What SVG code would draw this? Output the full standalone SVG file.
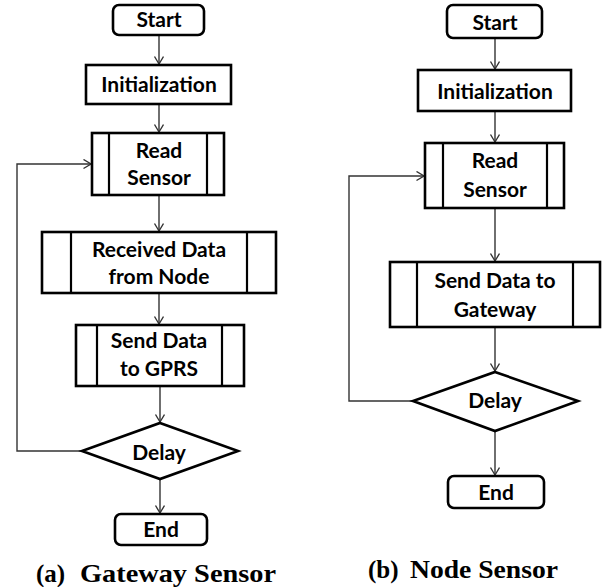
<svg xmlns="http://www.w3.org/2000/svg" width="602" height="587" viewBox="0 0 602 587">
<style>
.box{fill:#fff;stroke:#000;stroke-width:2.6}
.in{stroke:#000;stroke-width:2.2;fill:none}
.t{font-family:Lato,"Liberation Sans",sans-serif;font-weight:bold;font-size:21px;fill:#000;text-anchor:middle}
.c{stroke:#333;stroke-width:1.4;fill:none}
.cap{font-family:"Liberation Serif","Times New Roman",serif;font-weight:bold;font-size:25px;fill:#000}
</style>
<defs>
<marker id="ah" markerUnits="userSpaceOnUse" markerWidth="12" markerHeight="12" refX="8" refY="5" orient="auto">
<path d="M0.5,0.5 L8,5 L0.5,9.5" fill="none" stroke="#333" stroke-width="1.4"/>
</marker>
</defs>
<g id="connectors">
<line class="c" x1="159" y1="35" x2="159" y2="64" marker-end="url(#ah)"/>
<line class="c" x1="159" y1="104" x2="159" y2="132" marker-end="url(#ah)"/>
<line class="c" x1="159" y1="195" x2="159" y2="231" marker-end="url(#ah)"/>
<line class="c" x1="159" y1="293" x2="159" y2="324" marker-end="url(#ah)"/>
<line class="c" x1="160" y1="386" x2="160" y2="422" marker-end="url(#ah)"/>
<line class="c" x1="160" y1="479" x2="160" y2="513" marker-end="url(#ah)"/>
<polyline class="c" points="82,451 17,451 17,164 91,164" marker-end="url(#ah)"/>
<line class="c" x1="495" y1="38" x2="495" y2="69" marker-end="url(#ah)"/>
<line class="c" x1="495" y1="111" x2="495" y2="142" marker-end="url(#ah)"/>
<line class="c" x1="495" y1="208" x2="495" y2="261" marker-end="url(#ah)"/>
<line class="c" x1="495" y1="327" x2="495" y2="371" marker-end="url(#ah)"/>
<line class="c" x1="495" y1="431" x2="495" y2="475" marker-end="url(#ah)"/>
<polyline class="c" points="413,401 349,401 349,176 424,176" marker-end="url(#ah)"/>
</g>
<g id="a-start"><rect class="box" x="113" y="5" width="91" height="30" rx="6"/><text class="t" x="159" y="27">Start</text></g>
<g id="a-init"><rect class="box" x="86" y="65" width="145" height="39"/><text class="t" x="159" y="92">Initialization</text></g>
<g id="a-read"><rect class="box" x="92" y="133" width="132" height="62"/><line class="in" x1="109" y1="133" x2="109" y2="195"/><line class="in" x1="207" y1="133" x2="207" y2="195"/><text class="t" x="159" y="158">Read</text><text class="t" x="159" y="185">Sensor</text></g>
<g id="a-recv"><rect class="box" x="42" y="232" width="234" height="61"/><line class="in" x1="71" y1="232" x2="71" y2="293"/><line class="in" x1="247" y1="232" x2="247" y2="293"/><text class="t" x="159" y="257">Received Data</text><text class="t" x="159" y="284">from Node</text></g>
<g id="a-send"><rect class="box" x="76" y="325" width="168" height="61"/><line class="in" x1="97" y1="325" x2="97" y2="386"/><line class="in" x1="222" y1="325" x2="222" y2="386"/><text class="t" x="159" y="348">Send Data</text><text class="t" x="159" y="376">to GPRS</text></g>
<g id="a-delay"><polygon class="box" points="160,423 238,451 160,479 82,451"/><text class="t" x="159" y="460">Delay</text></g>
<g id="a-end"><rect class="box" x="115" y="514" width="92" height="31" rx="6"/><text class="t" x="161" y="537">End</text></g>
<g id="b-start"><rect class="box" x="447" y="5" width="95" height="33" rx="6"/><text class="t" x="495" y="30">Start</text></g>
<g id="b-init"><rect class="box" x="418" y="70" width="153" height="41"/><text class="t" x="495" y="99">Initialization</text></g>
<g id="b-read"><rect class="box" x="425" y="143" width="139" height="65"/><line class="in" x1="443" y1="143" x2="443" y2="208"/><line class="in" x1="547" y1="143" x2="547" y2="208"/><text class="t" x="495" y="168">Read</text><text class="t" x="495" y="197">Sensor</text></g>
<g id="b-send"><rect class="box" x="390" y="262" width="210" height="65"/><line class="in" x1="417" y1="262" x2="417" y2="327"/><line class="in" x1="573" y1="262" x2="573" y2="327"/><text class="t" x="495" y="288">Send Data to</text><text class="t" x="495" y="317">Gateway</text></g>
<g id="b-delay"><polygon class="box" points="495,372 578,401 495,431 413,401"/><text class="t" x="495" y="408">Delay</text></g>
<g id="b-end"><rect class="box" x="448" y="476" width="96" height="32" rx="6"/><text class="t" x="496" y="500">End</text></g>
<g id="captions">
<text class="cap" x="36" y="582">(a)</text><text class="cap" x="80" y="582" textLength="196" lengthAdjust="spacingAndGlyphs">Gateway Sensor</text>
<text class="cap" x="368" y="578">(b)</text><text class="cap" x="410" y="578" textLength="148" lengthAdjust="spacingAndGlyphs">Node Sensor</text>
</g>
</svg>
